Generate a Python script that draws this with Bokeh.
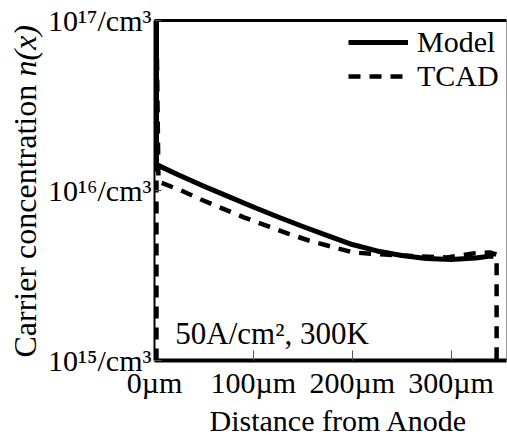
import math
from bokeh.plotting import figure
from bokeh.layouts import row
from bokeh.models import (Range1d, FixedTicker, Label, Legend, LegendItem,
                          LinearAxis, Title)
from bokeh.core.properties import value
from bokeh.embed import file_html
from bokeh.resources import INLINE

# Carrier concentration profile along the drift region (50 A/cm^2, 300 K)
model_x = [2, 2, 25, 50, 75, 100, 125, 150, 175, 200, 225, 250, 275, 300, 325, 340, 343]
model_n = [1.0e17, 1.42e16, 1.23e16, 1.06e16, 9.2e15, 8.0e15, 6.98e15, 6.14e15,
           5.43e15, 4.81e15, 4.41e15, 4.15e15, 3.98e15, 3.93e15, 4.01e15, 4.12e15, 4.08e15]

tcad_x = [2, 2, 4, 7, 27, 47, 69, 91, 113, 135, 156, 178, 201, 229, 260, 296, 322, 339, 346, 346]
tcad_n = [1.0e15, 1.0e17, 1.146e16, 1.11e16, 1.0e16, 8.85e15, 7.83e15, 6.93e15, 6.22e15,
          5.58e15, 5.08e15, 4.69e15, 4.32e15, 4.21e15, 4.12e15, 4.04e15, 4.26e15,
          4.32e15, 4.2e15, 1.0e15]

x_ticks = [0, 100, 200, 300]
x_tick_labels = ["0\u00b5m", "100\u00b5m", "200\u00b5m", "300\u00b5m"]
y_ticks = [1e15, 1e16, 1e17]
y_tick_labels = ["10\u00b9\u2075/cm\u00b3", "10\u00b9\u2076/cm\u00b3", "10\u00b9\u2077/cm\u00b3"]

FONT = "Liberation Serif"
FS = "30px"

# ---- main plot -------------------------------------------------------------
p = figure(width=462, height=439, y_axis_type="log",
           x_range=Range1d(0, 356), y_range=Range1d(1e15, 1e17),
           output_backend="svg", toolbar_location=None,
           min_border_left=107, min_border_right=1,
           min_border_top=20, min_border_bottom=79)
p.background_fill_color = "white"
p.border_fill_color = "white"
p.grid.visible = False
p.outline_line_color = "#9a9a9a"
p.outline_line_width = 1

r_model = p.line(model_x, model_n, line_color="black", line_width=5, line_join="round")
r_tcad = p.line(tcad_x, tcad_n, line_color="black", line_width=4.5,
                line_dash="12 9", line_join="round")

xa = p.xaxis[0]
xa.ticker = FixedTicker(ticks=x_ticks)
xa.major_label_overrides = dict(zip(x_ticks, x_tick_labels))
xa.major_label_text_font = FONT
xa.major_label_text_font_size = FS
xa.major_label_text_color = "black"
xa.major_label_standoff = 5
xa.axis_line_width = 4
xa.axis_line_color = "black"
xa.major_tick_in = 10
xa.major_tick_out = 0
xa.major_tick_line_color = "#555555"
xa.minor_tick_line_color = None

ya = p.yaxis[0]
ya.ticker = FixedTicker(ticks=y_ticks)
ya.major_label_overrides = dict(zip(y_ticks, y_tick_labels))
ya.major_label_text_font = FONT
ya.major_label_text_font_size = FS
ya.major_label_text_color = "black"
ya.major_label_standoff = 3
ya.axis_line_width = 2
ya.axis_line_color = "black"
ya.major_tick_in = 7
ya.major_tick_out = 0
ya.major_tick_line_color = "#555555"
ya.minor_tick_line_color = None

top = LinearAxis(ticker=FixedTicker(ticks=[]), major_label_text_font_size="0px",
                 axis_line_width=3, axis_line_color="black",
                 major_tick_line_color=None, minor_tick_line_color=None)
p.add_layout(top, "above")

p.add_layout(Title(text="Distance from Anode", align="left", offset=55, standoff=0,
                   text_font=FONT, text_font_size=FS, text_font_style="normal",
                   text_color="black"), "below")

# operating condition note
p.add_layout(Label(x=21, y=1.45e15, text="50A/cm\u00b2, 300K", text_font=FONT,
                   text_font_size="31px", text_align="left", text_baseline="alphabetic",
                   text_color="black"))

legend = Legend(items=[LegendItem(label="Model", renderers=[r_model]),
                       LegendItem(label="TCAD", renderers=[r_tcad])],
                location="top_right", margin=5, padding=3, spacing=0,
                glyph_width=60, glyph_height=30, label_standoff=9, label_width=84,
                label_text_font=FONT, label_text_font_size=FS,
                label_text_color="black",
                border_line_color=None, background_fill_alpha=0)
p.add_layout(legend)

# ---- vertical axis title strip (its frame is row-aligned with the main frame) ----
t = figure(width=45, height=439, x_range=Range1d(0, 45), y_range=Range1d(79, 419),
           output_backend="svg", toolbar_location=None, min_border=0)
t.axis.visible = False
t.grid.visible = False
t.outline_line_color = None
t.background_fill_color = "white"
t.border_fill_color = "white"
t.text(x=[24], y=[82], text=["Carrier concentration "], angle=math.pi / 2,
       text_align="left", text_baseline="middle", text_font=value(FONT),
       text_font_size="32px", text_color="black")
t.text(x=[24], y=[363], text=["n(x)"], angle=math.pi / 2,
       text_align="left", text_baseline="middle", text_font=value(FONT),
       text_font_size="32px", text_font_style="italic", text_color="black")

layout = row(t, p, spacing=0)
open("out.html", "w").write(file_html(layout, INLINE))
